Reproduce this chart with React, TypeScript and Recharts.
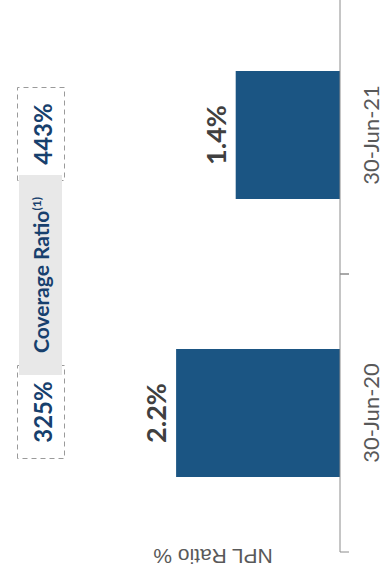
import React from 'react';
import { BarChart, Bar, XAxis, YAxis, LabelList } from 'recharts';

const categories = ['30-Jun-20', '30-Jun-21'];
const nplRatio = [2.2, 1.4];
const coverageRatio = [325, 443];

const data = categories.map((c, i) => ({ date: c, npl: nplRatio[i], coverage: coverageRatio[i] }));

const BAR = '#1b5583';
const NAVY = '#17406d';
const GRAY_TEXT = '#595959';
const LABEL_TEXT = '#404040';
const AXIS = '#8c8c8c';
const FONT = 'Lato, "Open Sans", sans-serif';

function CategoryTick(props: any) {
  const { x, y, payload } = props;
  const half = payload && typeof payload.offset === 'number' && payload.offset > 0 ? payload.offset : 139;
  return (
    <g>
      <line x1={x - half} y1={y - 9} x2={x - half} y2={y} stroke={AXIS} strokeWidth={1} />
      <line x1={x + half} y1={y - 9} x2={x + half} y2={y} stroke={AXIS} strokeWidth={1} />
      <text x={x} y={y + 29.5} textAnchor="middle" fill={GRAY_TEXT} fontSize={22} fontFamily={FONT}>
        {payload.value}
      </text>
    </g>
  );
}

function CoverageLabel(props: any) {
  const vb = props.viewBox || {};
  const bx = props.x ?? vb.x;
  const bw = props.width ?? vb.width;
  const cx = Number(bx) + Number(bw) / 2 + 1;
  return (
    <g>
      <rect x={cx - 46.5} y={17.5} width={93} height={47} fill="none" stroke="#9a9a9a" strokeWidth={1} strokeDasharray="5 4" />
      <text x={cx} y={52} textAnchor="middle" fill={NAVY} fontSize={24} fontWeight={700} fontFamily={FONT}>
        {props.value}%
      </text>
    </g>
  );
}

function YLabel(props: any) {
  const vb = props.viewBox || { x: 24, y: 42, width: 9, height: 298 };
  const cx = vb.x + vb.width / 2;
  const cy = vb.y + vb.height / 2 + 22;
  return (
    <text
      x={cx}
      y={cy}
      transform={`rotate(-90 ${cx} ${cy})`}
      textAnchor="middle"
      dominantBaseline="central"
      fill={GRAY_TEXT}
      fontSize={21}
      fontFamily='"Liberation Sans", Arial, sans-serif'
    >
      NPL Ratio %
    </text>
  );
}

export default function App() {
  return (
    <div style={{ position: 'absolute', left: 0, top: 0, width: 383, height: 585, overflow: 'hidden', background: '#fff' }}>
      <div
        style={{
          position: 'absolute',
          left: 0,
          top: 0,
          width: 585,
          height: 383,
          transformOrigin: '0 0',
          transform: 'translate(0px, 585px) rotate(-90deg)',
        }}
      >
        <BarChart width={600} height={383} data={data} margin={{ top: 42, right: 11, bottom: 3, left: 24 }}>
          <XAxis
            dataKey="date"
            interval={0}
            tick={<CategoryTick />}
            tickLine={false}
            tickSize={9}
            tickMargin={0}
            axisLine={{ stroke: AXIS, strokeWidth: 1 }}
            height={40}
          />
          <YAxis
            type="number"
            domain={[0, 4]}
            allowDataOverflow
            tick={false}
            tickLine={false}
            axisLine={false}
            width={9}
            label={{ content: (p: any) => <YLabel {...p} /> }}
          />
          <Bar dataKey="npl" fill={BAR} barSize={128} isAnimationActive={false}>
            <LabelList
              dataKey="npl"
              position="top"
              offset={10}
              formatter={(v: any) => `${Number(v).toFixed(1)}%`}
              fill={LABEL_TEXT}
              fontSize={27}
              fontWeight={700}
              fontFamily={FONT}
            />
            <LabelList dataKey="coverage" content={(p: any) => <CoverageLabel {...p} />} />
          </Bar>
        </BarChart>
        <div
          style={{
            position: 'absolute',
            left: 210,
            top: 19,
            width: 200,
            height: 43,
            background: '#e8e8e8',
            display: 'flex',
            alignItems: 'center',
            justifyContent: 'center',
            fontFamily: FONT,
            fontWeight: 700,
            fontSize: 21,
            lineHeight: '21px',
            color: NAVY,
            whiteSpace: 'nowrap',
          }}
        >
          <span>
            Coverage Ratio<sup style={{ fontSize: 12, lineHeight: 0 }}>(1)</sup>
          </span>
        </div>
      </div>
    </div>
  );
}
